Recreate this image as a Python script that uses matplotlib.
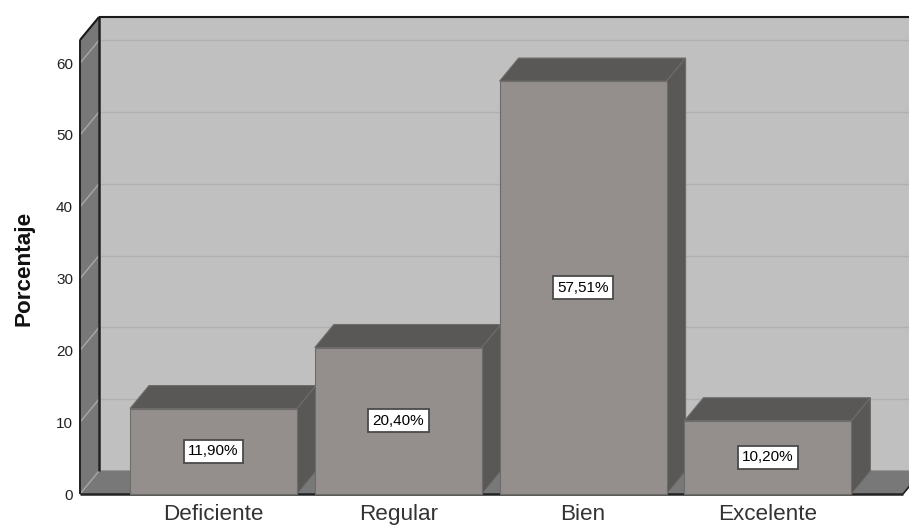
import matplotlib
matplotlib.use("Agg")
import matplotlib.pyplot as plt
from matplotlib.patches import Polygon

categories = ["Deficiente", "Regular", "Bien", "Excelente"]
values = [11.90, 20.40, 57.51, 10.20]
value_labels = ["11,90%", "20,40%", "57,51%", "10,20%"]
y_ticks = [0, 10, 20, 30, 40, 50, 60]

plt.rcParams["font.family"] = ["Liberation Sans", "DejaVu Sans"]

W, H = 909, 526
fig = plt.figure(figsize=(W / 100, H / 100), dpi=100, facecolor="white")

# front plane of the 3D box, in pixels
left, right, top, bottom = 80, 903, 40, 494
ax = fig.add_axes([left / W, 1 - bottom / H, (right - left) / W, (bottom - top) / H])

px_y = 7.18   # pixels per percent
px_x = 184.8  # pixels per category
ax.set_ylim(0, (bottom - top) / px_y)
ax.set_xlim((left - 213.5) / px_x, (right - 213.5) / px_x)

# depth offset of the box, in data units
dx = 19 / px_x
dy = 23 / px_y
bar_w = 167 / px_x

x0, x1 = ax.get_xlim()
y0, y1 = ax.get_ylim()

WALL = "#c0c0c0"
SIDE = "#787878"
GRID = "#b0b0b0"
FRONT = "#948f8d"
DARK = "#5a5856"
EDGE = "#6e6c6a"


def poly(pts, color, edge=None, lw=0.8, z=1):
    p = Polygon(pts, closed=True, facecolor=color, edgecolor=edge if edge else color,
                linewidth=lw, clip_on=False, zorder=z)
    ax.add_patch(p)


def line(xs, ys, color, lw=1.0, z=2):
    ax.plot(xs, ys, color=color, lw=lw, clip_on=False, zorder=z, solid_capstyle="butt")


# walls and floor
poly([(x0 + dx, dy), (x1 + dx, dy), (x1 + dx, y1 + dy), (x0 + dx, y1 + dy)], WALL)
poly([(x0, 0), (x0 + dx, dy), (x0 + dx, y1 + dy), (x0, y1)], SIDE)
poly([(x0, 0), (x1, 0), (x1 + dx, dy), (x0 + dx, dy)], SIDE)

# grid lines run across the side wall and the back wall
for t in y_ticks:
    line([x0, x0 + dx], [t, t + dy], "#a8a8a8", 1.0)
    if t > 0:
        line([x0 + dx, x1 + dx], [t + dy, t + dy], GRID, 1.0)

# box outline
line([x0 + dx, x0 + dx], [dy, y1 + dy], "#222222", 1.8, 3)
line([x0 + dx, x1 + dx], [y1 + dy, y1 + dy], "#1a1a1a", 1.5, 3)
line([x0, x0 + dx], [y1, y1 + dy], "#1a1a1a", 1.5, 3)
line([x0, x0], [0, y1], "#222222", 1.4, 3)
line([x1, x1 + dx], [0, dy], "#222222", 1.2, 3)
line([x0, x1], [0, 0], "#222222", 1.8, 3)

# bars, left to right so each front covers the previous side
for i, v in enumerate(values):
    a = i - bar_w / 2
    b = i + bar_w / 2
    z = 4 + i
    poly([(a, v), (b, v), (b + dx, v + dy), (a + dx, v + dy)], DARK, EDGE, 0.8, z)
    poly([(b, 0), (b + dx, dy), (b + dx, v + dy), (b, v)], DARK, EDGE, 0.8, z)
    poly([(a, 0), (b, 0), (b, v), (a, v)], FRONT, EDGE, 0.8, z)
    ax.text(i, v / 2, value_labels[i], ha="center", va="center", fontsize=11,
            color="black", zorder=10,
            bbox=dict(boxstyle="square,pad=0.3", facecolor="white", edgecolor="#4a4a4a", linewidth=1.3))

ax.set_xticks(range(len(categories)))
ax.set_xticklabels(categories, fontsize=16.2, color="#333333")
ax.set_yticks(y_ticks)
ax.set_yticklabels([str(t) for t in y_ticks], fontsize=11, color="#222222")
ax.tick_params(axis="x", length=0, pad=7.5)
ax.tick_params(axis="y", length=0, pad=5)
ax.patch.set_visible(False)
for s in ax.spines.values():
    s.set_visible(False)

fig.text(24 / W, 1 - 268 / H, "Porcentaje", rotation=90, ha="center", va="center",
         fontsize=16.2, fontweight="bold", color="#111111")

fig.savefig("out.png", dpi=100)
